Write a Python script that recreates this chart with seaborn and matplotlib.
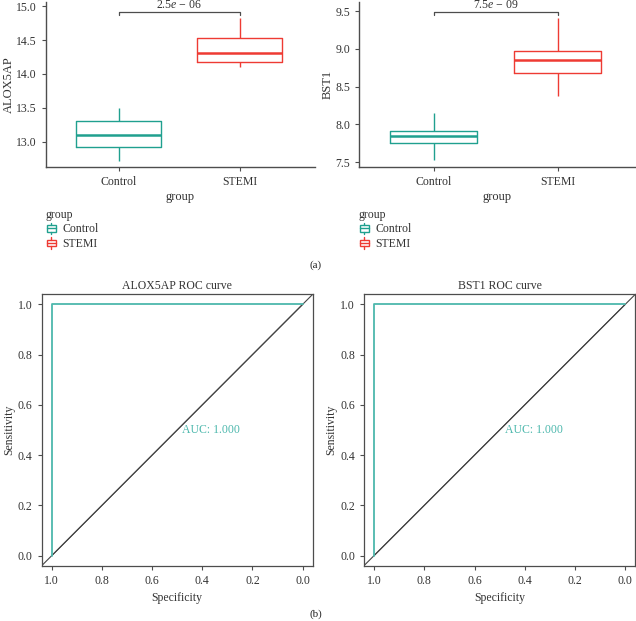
import pandas as pd
import seaborn as sns
import matplotlib.pyplot as plt
from matplotlib.patches import Patch, Rectangle
from matplotlib.lines import Line2D
from matplotlib.legend_handler import HandlerBase

# группы и пятичисловые сводки: min, Q1, медиана, Q3, max
groups = ['Control', 'STEMI']
alox_control = [12.72, 12.92, 13.10, 13.31, 13.50]
alox_stemi = [14.10, 14.18, 14.31, 14.53, 14.83]
bst1_control = [7.52, 7.75, 7.845, 7.915, 8.155]
bst1_stemi = [8.376, 8.68, 8.85, 8.976, 9.41]
p_labels = ['2.5$\\mathit{e}$ \u2212 06', '7.5$\\mathit{e}$ \u2212 09']
genes = ['ALOX5AP', 'BST1']

# ROC-кривые
roc_spec = [1.0, 1.0, 0.0]
roc_sens = [0.0, 1.0, 1.0]
diag_spec = [1.0, 0.0]
diag_sens = [0.0, 1.0]
auc_values = [1.000, 1.000]

colors = {'Control': '#20a08f', 'STEMI': '#ee3b33'}
roc_color = '#4db8ad'
axis_grey = '#4d4d4d'

sns.set_style('ticks')
plt.rcParams['font.family'] = ['Liberation Serif', 'DejaVu Serif']
plt.rcParams['mathtext.fontset'] = 'custom'
plt.rcParams['mathtext.rm'] = 'Liberation Serif'
plt.rcParams['mathtext.it'] = 'Liberation Serif:italic'

fig = plt.figure(figsize=(6.36, 6.21), dpi=100)


def box_panel(rect, gene, ctrl, stemi, label, ylim, ticks):
    ax = fig.add_axes(rect)
    df = pd.DataFrame({
        'group': ['Control'] * len(ctrl) + ['STEMI'] * len(stemi),
        'value': ctrl + stemi,
    })
    sns.boxplot(data=df, x='group', y='value', hue='group', palette=colors,
                order=groups, fill=False, whis=(0, 100), width=0.7,
                linewidth=1.0, showcaps=False, legend=False, ax=ax,
                medianprops={'linewidth': 1.8})
    ax.set_xlim(-0.6, 1.62)
    ax.set_ylim(*ylim)
    ax.set_yticks(ticks)
    ax.set_yticklabels([f'{t:.1f}' for t in ticks])
    # скобка значимости
    yb = ylim[1] - (ylim[1] - ylim[0]) * 0.06
    tick = (ylim[1] - ylim[0]) * 0.02
    ax.plot([0, 0, 1, 1], [yb - tick, yb, yb, yb - tick], color=axis_grey, lw=0.9,
            clip_on=False)
    ax.text(0.5, yb + tick * 0.4, label, ha='center', va='bottom', fontsize=8.5,
            color='#333333')
    sns.despine(ax=ax)
    for s in ['left', 'bottom']:
        ax.spines[s].set_color(axis_grey)
        ax.spines[s].set_linewidth(1.0)
    ax.tick_params(colors=axis_grey, labelcolor='#333333', labelsize=8.5,
                   length=3, width=0.8)
    ax.set_xlabel('group', fontsize=9, color='#333333', labelpad=2)
    ax.set_ylabel(gene, fontsize=9, color='#333333', labelpad=1)
    return ax


box_panel([0.0723, 0.7311, 0.4230, 0.2657], genes[0], alox_control, alox_stemi,
          p_labels[0], (12.63, 15.06), [13.0, 13.5, 14.0, 14.5, 15.0])
box_panel([0.5645, 0.7311, 0.4335, 0.2657], genes[1], bst1_control, bst1_stemi,
          p_labels[1], (7.434, 9.62), [7.5, 8.0, 8.5, 9.0, 9.5])


class BoxGlyph(HandlerBase):
    def create_artists(self, legend, orig_handle, xdescent, ydescent,
                       width, height, fontsize, trans):
        c = orig_handle.get_edgecolor()
        x0, y0 = -xdescent, -ydescent
        bw, bh = width * 0.85, height * 0.55
        bx, by = x0 + (width - bw) / 2, y0 + (height - bh) / 2
        cx = x0 + width / 2
        arts = [
            Rectangle((bx, by), bw, bh, fill=False, edgecolor=c, lw=1.0, transform=trans),
            Line2D([bx, bx + bw], [y0 + height / 2] * 2, color=c, lw=1.0, transform=trans),
            Line2D([cx, cx], [y0, by], color=c, lw=1.0, transform=trans),
            Line2D([cx, cx], [by + bh, y0 + height], color=c, lw=1.0, transform=trans),
        ]
        return arts


for lx in [0.072, 0.564]:
    handles = [Patch(facecolor='white', edgecolor=colors[g]) for g in groups]
    leg = fig.legend(handles, groups, title='group', loc='upper left',
                     bbox_to_anchor=(lx, 1 - 209 / 621), frameon=False,
                     fontsize=8.5, title_fontsize=8.5, handlelength=0.9,
                     handleheight=1.1, handletextpad=0.5, labelspacing=0.15,
                     borderaxespad=0, borderpad=0,
                     handler_map={Patch: BoxGlyph()})
    leg._legend_box.align = 'left'
    for t in leg.get_texts():
        t.set_color('#333333')
    leg.get_title().set_color('#333333')

fig.text(316 / 636, 1 - 265 / 621, '(a)', ha='center', va='center', fontsize=8)
fig.text(316 / 636, 1 - 614 / 621, '(b)', ha='center', va='center', fontsize=8)


def roc_panel(rect, gene, auc):
    ax = fig.add_axes(rect)
    sns.lineplot(x=diag_spec, y=diag_sens, color='#444444', lw=0.8, ax=ax)
    ax.axline((diag_spec[0], diag_sens[0]), (diag_spec[1], diag_sens[1]),
              color='#444444', lw=0.8)
    sns.lineplot(x=roc_spec, y=roc_sens, sort=False, estimator=None,
                 color=roc_color, lw=1.3, ax=ax)
    ax.set_xlim(1.04, -0.04)
    ax.set_ylim(-0.04, 1.04)
    ticks = [1.0, 0.8, 0.6, 0.4, 0.2, 0.0]
    ax.set_xticks(ticks)
    ax.set_yticks(ticks)
    ax.set_xticklabels([f'{t:.1f}' for t in ticks])
    ax.set_yticklabels([f'{t:.1f}' for t in ticks])
    ax.text(0.48, 0.5, f'AUC: {auc:.3f}', color=roc_color, fontsize=8.5,
            ha='left', va='center')
    for s in ax.spines.values():
        s.set_color(axis_grey)
        s.set_linewidth(0.9)
    ax.tick_params(colors=axis_grey, labelcolor='#333333', labelsize=8.5,
                   length=3, width=0.8)
    ax.set_title(f'{gene} ROC curve', fontsize=8.5, color='#333333', pad=4)
    ax.set_xlabel('Specificity', fontsize=8.5, color='#333333')
    ax.set_ylabel('Sensitivity', fontsize=8.5, color='#333333', labelpad=2)


roc_panel([0.0656, 0.0891, 0.4261, 0.4370], genes[0], auc_values[0])
roc_panel([0.5723, 0.0891, 0.4266, 0.4370], genes[1], auc_values[1])

fig.savefig('out.png', dpi=100)
